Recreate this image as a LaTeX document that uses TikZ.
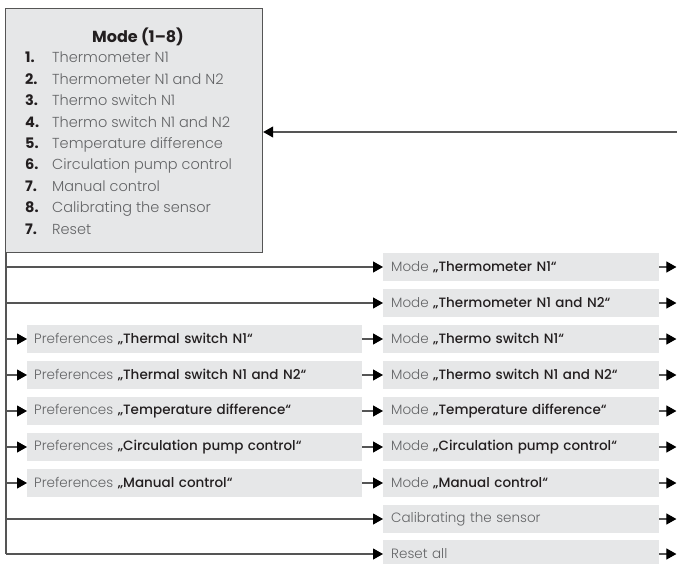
\documentclass[tikz,border=0pt]{standalone}
\usepackage{fontspec}
\setmainfont{Poppins Light}[BoldFont={Poppins Bold}]
\newfontfamily\medfont{Poppins Medium}
\usetikzlibrary{arrows.meta}
\definecolor{boxgray}{HTML}{E6E7E8}
\definecolor{linegray}{HTML}{555555}
\definecolor{txtgray}{HTML}{636466}
\definecolor{txtdark}{HTML}{231F20}
\tikzset{
  arr/.style={draw=linegray, line width=1.1pt, -{Triangle[length=10pt,width=11pt,color=black]}},
  ln/.style={draw=linegray, line width=1.1pt},
  rowbox/.style={fill=boxgray, minimum height=28pt, inner xsep=8pt, inner ysep=0pt, align=left, anchor=west,
    font=\fontsize{13.5pt}{14pt}\selectfont, text=txtgray},
  rbox/.style={rowbox, text width=260pt},
  lbox/.style={rowbox, inner xsep=7pt, text width=321pt},
  modebox/.style={draw=linegray, fill=boxgray, line width=1.2pt, minimum width=257pt, minimum height=244pt, anchor=north west, inner sep=0pt},
  item/.style={anchor=base west, font=\fontsize{14.5pt}{16pt}\selectfont, text=txtgray, inner sep=0pt},
  num/.style={anchor=base west, font=\fontsize{14.5pt}{16pt}\selectfont\bfseries, text=txtdark, inner sep=0pt},
}
\newcommand{\q}[1]{\textcolor{txtdark}{\medfont „#1“}}
\begin{document}
\begin{tikzpicture}[x=1pt,y=-1pt]
\useasboundingbox (0,0) rectangle (677,564);
\node[modebox] (mode) at (5,8) {};
\node[anchor=base, font=\fontsize{16pt}{18pt}\selectfont\bfseries, text=txtdark, inner sep=0pt] (title) at (138,43) {Mode (1–8)};
\foreach \n/\t [count=\i] in {1/Thermometer N1, 2/Thermometer N1 and N2, 3/Thermo switch N1, 4/Thermo switch N1 and N2, 5/Temperature difference, 6/Circulation pump control, 7/Manual control, 8/Calibrating the sensor, 7/Reset}{
  \node[num] (n\i) at (25,{63+(\i-1)*21.4}) {\n.};
  \node[item] (t\i) at (52,{63+(\i-1)*21.4}) {\t};
}
% right boxes
\node[rbox] (r1) at (383,267) {Mode \q{Thermometer N1}};
\node[rbox] (r2) at (383,303) {Mode \q{Thermometer N1 and N2}};
\node[rbox] (r3) at (383,339) {Mode \q{Thermo switch N1}};
\node[rbox] (r4) at (383,375) {Mode \q{Thermo switch N1 and N2}};
\node[rbox] (r5) at (383,411) {Mode \q{Temperature difference}};
\node[rbox] (r6) at (383,447) {Mode \q{Circulation pump control}};
\node[rbox] (r7) at (383,483) {Mode \q{Manual control}};
\node[rbox] (r8) at (383,519) {Calibrating the sensor};
\node[rbox] (r9) at (383,554) {Reset all};
% left boxes
\node[lbox] (l3) at (27,339) {Preferences \q{Thermal switch N1}};
\node[lbox] (l4) at (27,375) {Preferences \q{Thermal switch N1 and N2}};
\node[lbox] (l5) at (27,411) {Preferences \q{Temperature difference}};
\node[lbox] (l6) at (27,447) {Preferences \q{Circulation pump control}};
\node[lbox] (l7) at (27,483) {Preferences \q{Manual control}};
% spine
\coordinate (sp) at (6,252);
\coordinate (in) at (677,132);
\draw[arr] (in) -- (in -| mode.east);
\draw[ln] (sp) -- (sp |- r9.west);
\foreach \r in {1,2,8,9}{ \draw[arr] (sp |- r\r.west) -- (r\r.west); }
\foreach \r in {3,...,7}{
  \draw[arr] (sp |- l\r.west) -- (l\r.west);
  \draw[arr] (l\r.east) -- (r\r.west);
}
\foreach \r in {1,...,9}{
  \coordinate (o\r) at ([xshift=17pt]r\r.east);
  \draw[arr] (r\r.east) -- (o\r);
}
\end{tikzpicture}
\end{document}
